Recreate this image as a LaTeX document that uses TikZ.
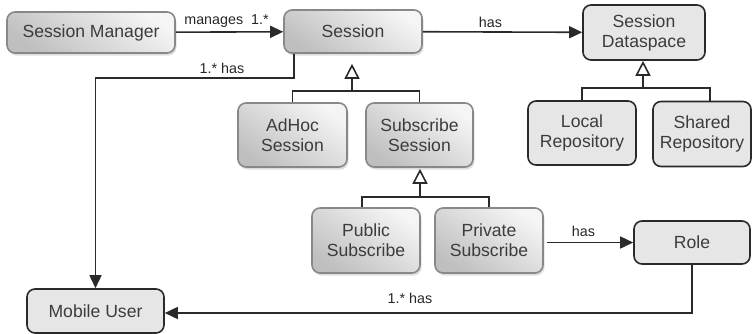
\documentclass[tikz,border=0pt]{standalone}
\usepackage{fontspec}
\setmainfont{Liberation Sans}
\usetikzlibrary{arrows.meta,shadows}
\definecolor{linec}{HTML}{2A2A2A}
\definecolor{textc}{HTML}{3C3C3C}
\definecolor{flatfill}{HTML}{E6E6E6}
\definecolor{shadeedge}{HTML}{888888}
\tikzset{
  box/.style={rounded corners=8pt, align=center, text=textc, line width=1.6pt,
    font=\fontsize{17.6}{20}\selectfont, inner sep=0pt},
  shadedbox/.style={box, draw=shadeedge, top color=gray!8, bottom color=gray!50,
    shading angle=-35,
    drop shadow={shadow xshift=1.5pt, shadow yshift=-2.5pt, opacity=0.25, fill=gray}},
  flatbox/.style={box, draw=linec, fill=flatfill},
  assoc/.style={draw=linec, line width=1.6pt, -{Triangle[length=13pt,width=12pt]}},
  genline/.style={draw=linec, line width=1.6pt},
  gen/.style={genline, -{Triangle[open,length=15pt,width=15pt,fill=white]}},
  lbl/.style={font=\fontsize{14.3}{16}\selectfont, text=black!85, inner sep=1pt}
}
\begin{document}
\begin{tikzpicture}[x=1pt, y=-1pt]
\useasboundingbox (0,0) rectangle (754,333);

% classes
\node[shadedbox, minimum width=168pt, minimum height=41pt] (sm) at (91,32.5) {Session Manager};
\node[shadedbox, minimum width=138pt, minimum height=43pt] (sess) at (353,31.5) {Session};
\node[flatbox, minimum width=122pt, minimum height=55pt] (ds) at (644,32.5) {Session\\Dataspace};
\node[flatbox, minimum width=108pt, minimum height=64pt] (local) at (582,133) {Local\\Repository};
\node[flatbox, minimum width=98pt, minimum height=65pt] (shared) at (702,134) {Shared\\Repository};
\node[shadedbox, minimum width=109pt, minimum height=64pt] (adhoc) at (292.5,135) {AdHoc\\Session};
\node[shadedbox, minimum width=107pt, minimum height=64pt] (subs) at (419.5,135) {Subscribe\\Session};
\node[shadedbox, minimum width=108pt, minimum height=65pt] (pub) at (366,240.5) {Public\\Subscribe};
\node[shadedbox, minimum width=108pt, minimum height=65pt] (priv) at (489,240.5) {Private\\Subscribe};
\node[flatbox, minimum width=116pt, minimum height=43pt] (role) at (692,242.5) {Role};
\node[flatbox, minimum width=137pt, minimum height=44pt] (mu) at (95.5,311) {Mobile User};

% generalization buses
\coordinate (jsess) at (352,91);
\coordinate (jds) at (643,88);
\coordinate (jsubs) at (420,197);
\draw[genline] (adhoc.north) |- (jsess) -| (subs.north);
\draw[gen, shorten >=10pt] (jsess) -- (jsess |- sess.south);
\draw[genline] (local.north) |- (jds) -| ([xshift=8pt]shared.north);
\draw[gen] (jds) -- (jds |- ds.south);
\draw[genline] ([xshift=-4pt]pub.north) |- (jsubs) -| (priv.north);
\draw[gen, shorten >=1pt] (jsubs) -- (jsubs |- subs.south);

% associations
\draw[assoc] (sm) -- node[lbl, above=3pt, xshift=-3pt] {manages\ \ 1.*} (sess);
\draw[assoc] (sess) -- node[lbl, above=3pt, xshift=-12pt] {has} (ds);
\draw[assoc, shorten <=3pt] (priv.east |- role.west) -- node[lbl, above=4pt, xshift=-5pt] {has} (role.west);
\draw[assoc] ([xshift=11pt]sess.south west) -- ++(0,24) -| (mu.north);
\node[lbl] (l1) at (222,68) {1.* has};
\draw[assoc] (role.south) |- ([yshift=-2pt]mu.east);
\node[lbl] (l2) at (410,298) {1.* has};
\end{tikzpicture}
\end{document}
